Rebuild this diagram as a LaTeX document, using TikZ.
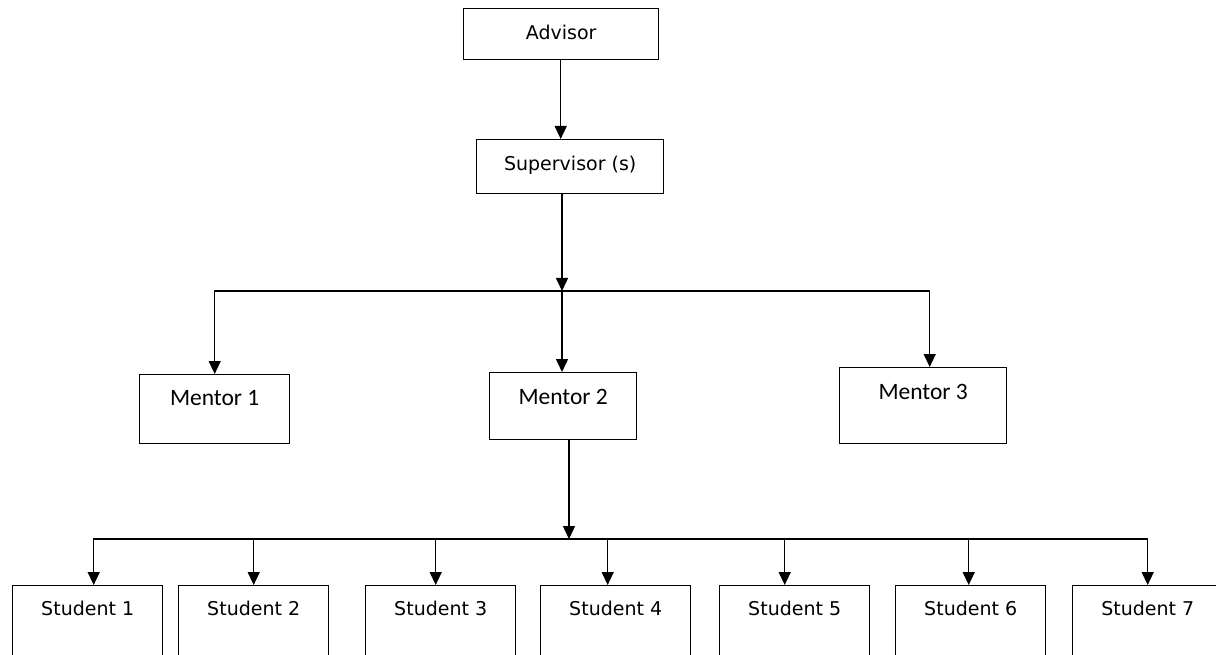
\documentclass[tikz,border=0pt]{standalone}
\usepackage{fontspec}
\setmainfont{DejaVu Sans}
\newfontfamily\mentorfont{Carlito}
\usetikzlibrary{arrows.meta}
\tikzset{
  box/.style={draw, line width=1.4pt, inner sep=0pt, anchor=north west, align=center},
  lbl/.style={font=\fontsize{19}{22}\selectfont},
  mlbl/.style={font=\mentorfont\fontsize{23.5}{26}\selectfont},
  arr/.style={line width=1.4pt, -{Triangle[width=12pt,length=13pt]}},
}
\begin{document}
\begin{tikzpicture}[x=1pt,y=-1pt]
\useasboundingbox (0,0) rectangle (1216,655);
\clip (0,0) rectangle (1216,655);
% top
\node[box, lbl, minimum width=195, text height=31, text depth=20] (adv) at (463,8) {Advisor};
\node[box, lbl, minimum width=187, text height=31, text depth=23] (sup) at (476,139) {Supervisor (s)};
% mentors
\node[box, mlbl, minimum width=150, text height=30.5, text depth=38.5] (m1) at (139,374) {Mentor 1};
\node[box, mlbl, minimum width=147, text height=31.5, text depth=35.5] (m2) at (489,372) {Mentor 2};
\node[box, mlbl, minimum width=167, text height=31.5, text depth=44.5] (m3) at (839,367) {Mentor 3};
% students
\node[box, lbl, minimum width=150, text height=30, text depth=70] (s1) at (12,585) {Student 1};
\node[box, lbl, minimum width=150, text height=30, text depth=70] (s2) at (178,585) {Student 2};
\node[box, lbl, minimum width=150, text height=30, text depth=70] (s3) at (365,585) {Student 3};
\node[box, lbl, minimum width=150, text height=30, text depth=70] (s4) at (540,585) {Student 4};
\node[box, lbl, minimum width=150, text height=30, text depth=70] (s5) at (719,585) {Student 5};
\node[box, lbl, minimum width=150, text height=30, text depth=70] (s6) at (895,585) {Student 6};
\node[box, lbl, minimum width=150, text height=30, text depth=70] (s7) at (1072,585) {Student 7};
% junctions
\coordinate (mj) at (562,291);
\coordinate (sj) at (569,539);
% connectors
\draw[arr] ([xshift=-0.5pt]adv.south) -- ([xshift=-0.5pt]adv.south |- sup.north);
\draw[arr] (sup.south -| mj) -- (mj);
\draw[arr] (mj) -| (m1.north);
\draw[arr] (mj) -- (mj |- m2.north);
\draw[arr] (mj) -| ([xshift=6.5pt]m3.north);
\draw[arr] (m2.south -| sj) -- (sj);
\draw[arr] (sj) -| ([xshift=6pt]s1.north);
\draw[arr] (sj) -| (s2.north);
\draw[arr] (sj) -| ([xshift=-5pt]s3.north);
\draw[arr] (sj) -| ([xshift=-8pt]s4.north);
\draw[arr] (sj) -| ([xshift=-10pt]s5.north);
\draw[arr] (sj) -| ([xshift=-2pt]s6.north);
\draw[arr] (sj) -| (s7.north);
\end{tikzpicture}
\end{document}
